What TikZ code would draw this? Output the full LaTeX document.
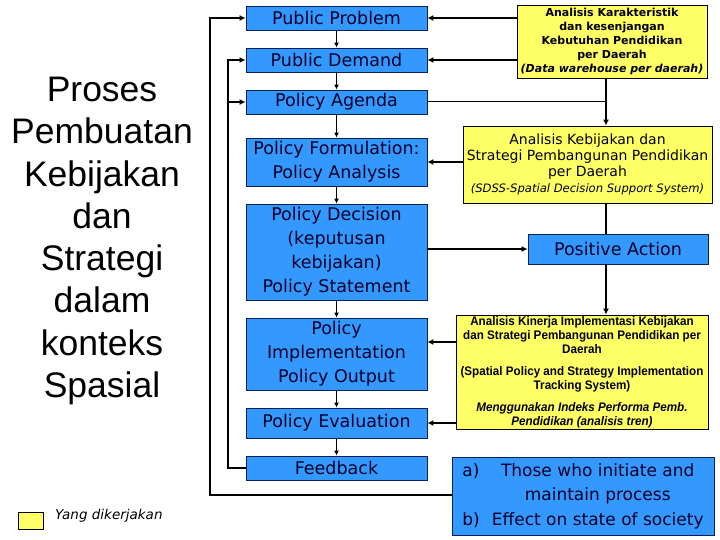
\documentclass[tikz,border=0pt]{standalone}
\usepackage{fontspec}
\setmainfont{DejaVu Sans}
\newfontfamily\titlefont{Liberation Sans}
\newfontfamily\arialfont[FakeStretch=0.94]{Liberation Sans}
\usetikzlibrary{arrows.meta}
\definecolor{boxblue}{RGB}{51,153,255}
\definecolor{boxyellow}{RGB}{255,255,102}
\definecolor{edgeblue}{RGB}{10,30,90}
\definecolor{txtdark}{RGB}{0,0,40}
\begin{document}
\begin{tikzpicture}[x=1pt,y=-1pt,
  bluebox/.style={draw=edgeblue, line width=0.8pt, fill=boxblue, text=txtdark,
    minimum width=181pt, inner sep=0pt, align=center,
    font=\fontsize{17.5}{24}\selectfont},
  ybox/.style={draw=black, line width=0.8pt, fill=boxyellow, inner sep=0pt, align=center},
  conn/.style={line width=2pt, -{Latex[length=6pt,width=6pt]}},
  link/.style={line width=2pt},
  thinlink/.style={line width=1pt},
  flow/.style={line width=1.4pt, -{Latex[length=5pt,width=5pt]}},
]
\useasboundingbox[fill=white] (0,0) rectangle (720,540);

% title
\node[font=\titlefont\fontsize{35.5}{42.3}\selectfont, align=center] (title) at (102,241)
  {Proses\\Pembuatan\\Kebijakan\\dan\\Strategi\\dalam\\konteks\\Spasial};

% blue chain
\node[bluebox, minimum height=24pt] (PP) at (336.5,18) {Public Problem};
\node[bluebox, minimum height=24pt] (PD) at (336.5,60) {Public Demand};
\node[bluebox, minimum height=24pt] (PA) at (336.5,102) {Policy Agenda};
\node[bluebox, minimum height=48pt] (PF) at (336.5,162) {Policy Formulation:\\Policy Analysis};
\node[bluebox, minimum height=96pt] (PDec) at (336.5,252) {Policy Decision\\(keputusan\\kebijakan)\\Policy Statement};
\node[bluebox, minimum height=72pt] (PI) at (336.5,354) {Policy\\Implementation\\Policy Output};
\node[bluebox, minimum height=30pt] (PE) at (336.5,423) {Policy Evaluation};
\node[bluebox, minimum height=24pt] (FB) at (336.5,468) {Feedback};

% right column
\node[ybox, minimum width=190pt, minimum height=73pt, font=\bfseries\fontsize{11}{14}\selectfont] (K1) at (612,41.5)
  {Analisis Karakteristik\\dan kesenjangan\\Kebutuhan Pendidikan\\per Daerah\\\itshape (Data warehouse per daerah)};
\node[ybox, minimum width=249pt, minimum height=77pt, font=\fontsize{14}{16}\selectfont] (K2) at (587.5,164.5)
  {Analisis Kebijakan dan\\Strategi Pembangunan Pendidikan\\per Daerah\\\itshape\fontsize{11.6}{16}\selectfont (SDSS-Spatial Decision Support System)};
\node[bluebox, minimum width=180pt, minimum height=30pt] (PosA) at (618,249) {Positive Action};
\node[ybox, minimum width=252pt, minimum height=114pt, font=\arialfont\bfseries\fontsize{12.4}{14}\selectfont] (K3) at (582,372)
  {Analisis Kinerja Implementasi Kebijakan\\dan Strategi Pembangunan Pendidikan per\\Daerah\\[8pt]
   (Spatial Policy and Strategy Implementation\\Tracking System)\\[8pt]
   \itshape Menggunakan Indeks Performa Pemb.\\\itshape Pendidikan (analisis tren)};
\node[bluebox, minimum width=262pt, minimum height=78pt, font=\fontsize{17}{24.5}\selectfont] (AB) at (583,496)
  {\begin{tabular}{@{}l@{\hspace{12pt}}c@{}}a) & Those who initiate and\\ & maintain process\\ b) & Effect on state of society\end{tabular}};

% legend
\node[draw=black, line width=0.8pt, fill=boxyellow, minimum width=25pt, minimum height=17pt, inner sep=0pt] (leg) at (30.5,520.5) {};
\node[anchor=west, inner sep=0pt, font=\itshape\fontsize{13.5}{15}\selectfont] (legtxt) at (55,516) {Yang dikerjakan};

% helper coordinates
\coordinate (xout) at (210,0);
\coordinate (xin) at (228,0);
\coordinate (vx) at (606,0);

% chain arrows
\draw[flow] (PP) -- (PD);
\draw[flow] (PD) -- (PA);
\draw[flow] (PA) -- (PF);
\draw[flow] (PF) -- (PDec);
\draw[flow] (PDec) -- (PI);
\draw[flow] (PI) -- (PE);
\draw[flow] (PE) -- (FB);

% left feedback loops
\draw[conn] (FB.west) -- (FB.west -| xin) -- (xin |- PD.west) -- (PD.west);
\draw[conn] (xin |- PA.west) -- (PA.west);
\draw[conn] (AB.west |- 0,495) -- (xout |- 0,495) -- (xout |- PP.west) -- (PP.west);

% right side connections
\draw[conn] (K1.west |- PP.east) -- (PP.east);
\draw[conn] (K1.west |- PD.east) -- (PD.east);
\draw[thinlink] (PA.east) -- (PA.east -| vx);
\draw[conn] (K1.south -| vx) -- (K2.north -| vx);
\draw[conn] (K2.west |- PF.east) -- (PF.east);
\draw[link] (K2.south -| vx) -- (PosA.north -| vx);
\draw[conn] (PDec.east |- PosA.west) -- (PosA.west);
\draw[conn] (PosA.south -| vx) -- (K3.north -| vx);
\draw[conn] (K3.west |- 0,342) -- (PI.east |- 0,342);
\draw[conn] (K3.west |- PE.east) -- (PE.east);
\end{tikzpicture}
\end{document}
